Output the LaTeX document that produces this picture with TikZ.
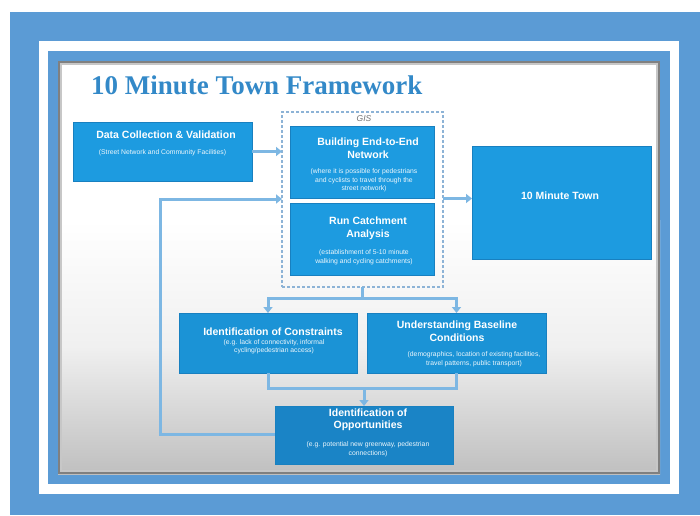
\documentclass[tikz,border=0pt]{standalone}
\usepackage{fontspec}
\setmainfont{Liberation Sans}
\newfontfamily\titlefont{Liberation Serif}
\usetikzlibrary{arrows.meta}
\definecolor{frameblue}{HTML}{5B9BD5}
\definecolor{boxblue}{HTML}{1D9BE0}
\definecolor{boxmid}{HTML}{1B93D6}
\definecolor{boxlow}{HTML}{1A84C6}
\definecolor{boxedge}{HTML}{1880C0}
\definecolor{connblue}{HTML}{7DB7E3}
\definecolor{gisdash}{HTML}{8DB3D6}
\definecolor{titleblue}{HTML}{3389C8}
\begin{document}
\begin{tikzpicture}[x=1pt,y=-1pt,
  box/.style={rectangle, draw=boxedge, line width=0.6pt, fill=boxblue, inner sep=0pt, outer sep=0pt},
  gisbox/.style={rectangle, draw=gisdash, line width=1.1pt, dash pattern=on 3pt off 2pt, inner sep=0pt, outer sep=0pt},
  ttl/.style={text=white, align=center, inner sep=0pt, font=\fontsize{10.5}{12.5}\selectfont\bfseries},
  sub/.style={text=white!92!boxblue, align=center, inner sep=0pt, font=\fontsize{6.8}{8.5}\selectfont},
  link/.style={draw=connblue, line width=3pt},
  conn/.style={link, -{Triangle[length=6pt,width=9pt]}}
]
\useasboundingbox (0,0) rectangle (700,515);
% frames
\fill[white] (0,0) rectangle (700,515);
\fill[frameblue] (10,12) rectangle (700,515);
\fill[white] (39,41) rectangle (679,494);
\fill[frameblue] (48,51) rectangle (670,484);
% slide
\fill[white] (58,61) rectangle (660,474);
\shade[top color=white, bottom color=black!25, middle color=black!6] (58,220) rectangle (660,474);
\draw[black!50, line width=2pt] (59,62) rectangle (659,473);
\draw[black!22, line width=2pt] (61,64) rectangle (657,471);

% title
\node[anchor=base west, inner sep=0pt, text=titleblue, font=\titlefont\fontsize{27}{30}\selectfont\bfseries] (title) at (91,94) {10 Minute Town Framework};

% GIS group
\node[gisbox, minimum width=161pt, minimum height=175pt] (gis) at (362.5,199.5) {};
\node[inner sep=0pt, text=black!55, font=\fontsize{8.5}{10}\selectfont\itshape] (gislabel) at (364,119) {GIS};

% boxes
\node[box, minimum width=179pt, minimum height=59pt] (data) at (162.5,151.5) {};
\node[box, minimum width=144pt, minimum height=72pt] (build) at (362,162) {};
\node[box, minimum width=144pt, minimum height=72pt] (run) at (362,239) {};
\node[box, minimum width=179pt, minimum height=113pt] (town) at (561.5,202.5) {};
\node[box, fill=boxmid, minimum width=178pt, minimum height=60pt] (cons) at (268,343) {};
\node[box, fill=boxmid, minimum width=179pt, minimum height=60pt] (base) at (456.5,343) {};
\node[box, fill=boxlow, minimum width=178pt, minimum height=58pt] (opp) at (364,435) {};

% texts
\node[ttl] (data-t) at (166,135) {Data Collection \& Validation};
\node[sub] (data-s) at (162.5,153) {(Street Network and Community Facilities)};
\node[ttl] (build-t) at (368,148) {Building End-to-End\\Network};
\node[sub] (build-s) at (364,180.5) {(where it is possible for pedestrians\\and cyclists to travel through the\\street network)};
\node[ttl] (run-t) at (368,228.5) {Run Catchment\\Analysis};
\node[sub] (run-s) at (364,257) {(establishment of 5-10 minute\\walking and cycling catchments)};
\node[ttl] (town-t) at (560,196) {10 Minute Town};
\node[ttl] (cons-t) at (273,332) {Identification of Constraints};
\node[sub] (cons-s) at (274,346.5) {(e.g. lack of connectivity, informal\\cycling/pedestrian access)};
\node[ttl] (base-t) at (457,331) {Understanding Baseline\\Conditions};
\node[sub] (base-s) at (474,359) {(demographics, location of existing facilities,\\travel patterns, public transport)};
\node[ttl] (opp-t) at (368,420) {Identification of\\Opportunities};
\node[sub] (opp-s) at (368,449) {(e.g. potential new greenway, pedestrian\\connections)};

% connectors
\draw[conn] (data.east) -- (data.east -| gis.west);
\coordinate (fbturn) at (160,434);
\coordinate (fbtop) at (160,199);
\draw[conn] (opp.west |- fbturn) -- (fbturn) -- (fbtop) -- (fbtop -| gis.west);
\draw[conn] (gis.east |- town.west) ++(0,-4) coordinate (g2t) (g2t) -- (g2t -| town.west);
\coordinate (split) at (362.5,298);
\draw[link] (gis.south) -- (split);
\draw[conn] (split) -| (cons.north);
\draw[conn] (split) -| (base.north);
\coordinate (merge) at (364,388);
\draw[link] (cons.south) |- (merge);
\draw[link] (base.south) |- (merge);
\draw[conn] (merge) -- (merge |- opp.north);
\end{tikzpicture}
\end{document}
